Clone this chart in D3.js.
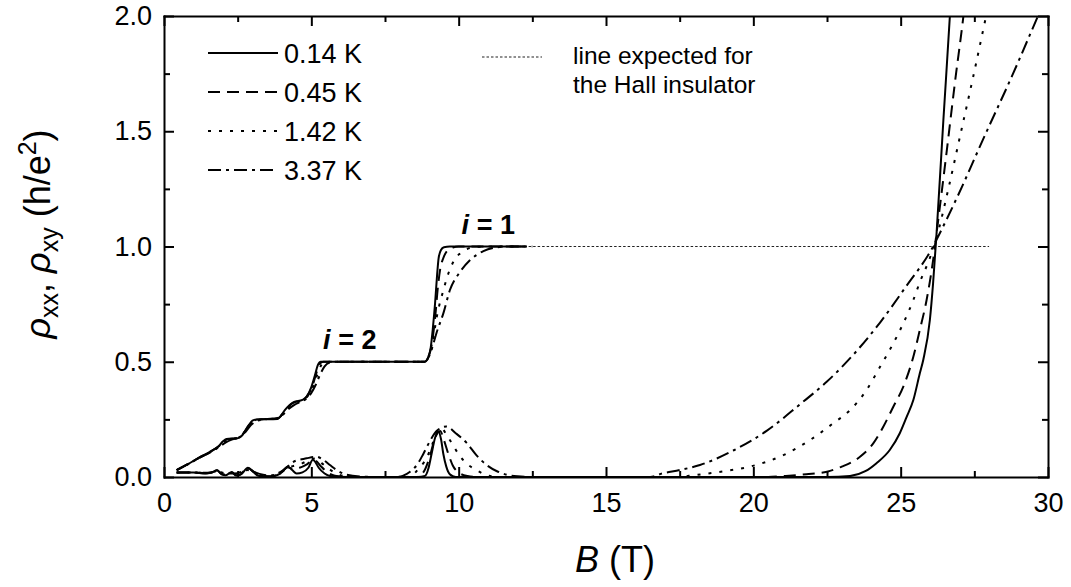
<!DOCTYPE html>
<html>
<head>
<meta charset="utf-8">
<script src="https://cdn.jsdelivr.net/npm/d3@7"></script>
<style>
body { margin: 0; background: #fff; }
svg { display: block; font-family: "Liberation Sans", Arial, sans-serif; }
.frame path { stroke: #000; stroke-width: 2; stroke-linecap: square; }
.tick line { stroke: #000; stroke-width: 2; }
.tick text { font-size: 27px; fill: #000; }
.curve { fill: none; stroke: #000; stroke-width: 2; }
</style>
</head>
<body>
<svg id="chart" width="1071" height="587"></svg>
<script>
(function(){

// temperatures (legend) and line styles
let temps = ["0.14 K", "0.45 K", "1.42 K", "3.37 K"];

let xTicks = [0, 5, 10, 15, 20, 25, 30],
    xMinor = [2.5, 7.5, 12.5, 17.5, 22.5, 27.5],
    yTicks = [0, 0.5, 1.0, 1.5, 2.0],
    yMinor = [0.25, 0.75, 1.25, 1.75];

// Hall resistivity rho_xy, [B (T), rho (h/e^2)]
let rhoXY_014 = [[0.43,0.03],[0.8,0.055],[1.2,0.085],[1.5,0.105],[1.7,0.12],[1.85,0.132],[2.0,0.155],[2.12,0.165],[2.5,0.168],[2.65,0.18],[2.85,0.22],[3.0,0.245],[3.15,0.25],[3.85,0.252],[3.95,0.262],[4.1,0.29],[4.25,0.31],[4.4,0.325],[4.7,0.335],[4.85,0.35],[5.0,0.39],[5.12,0.44],[5.22,0.485],[5.32,0.5],[8.85,0.5],[8.95,0.515],[9.05,0.56],[9.12,0.64],[9.2,0.755],[9.27,0.88],[9.32,0.95],[9.4,0.985],[9.5,0.997],[9.7,1.0],[12.3,1.0]];
let rhoXY_045 = [[0.43,0.03],[0.8,0.055],[1.2,0.084],[1.5,0.104],[1.7,0.12],[1.85,0.133],[2.0,0.152],[2.15,0.164],[2.5,0.168],[2.7,0.19],[2.9,0.228],[3.05,0.245],[3.2,0.25],[3.85,0.253],[4.0,0.27],[4.15,0.295],[4.3,0.315],[4.5,0.327],[4.75,0.337],[4.9,0.36],[5.05,0.4],[5.17,0.45],[5.28,0.49],[5.4,0.5],[8.85,0.5],[8.97,0.52],[9.08,0.57],[9.2,0.69],[9.3,0.83],[9.37,0.9],[9.48,0.95],[9.6,0.98],[9.8,0.995],[10.0,1.0],[12.3,1.0]];
let rhoXY_142 = [[0.43,0.03],[0.8,0.055],[1.2,0.084],[1.5,0.103],[1.7,0.118],[1.85,0.132],[2.0,0.15],[2.2,0.163],[2.5,0.17],[2.7,0.19],[2.9,0.226],[3.1,0.245],[3.3,0.25],[3.85,0.254],[4.0,0.27],[4.2,0.3],[4.4,0.318],[4.6,0.328],[4.8,0.34],[4.95,0.365],[5.1,0.405],[5.22,0.45],[5.35,0.488],[5.5,0.5],[8.85,0.5],[8.98,0.52],[9.1,0.57],[9.25,0.69],[9.48,0.81],[9.7,0.9],[9.9,0.95],[10.05,0.97],[10.3,0.99],[10.6,0.998],[11.0,1.0],[12.3,1.0]];
let rhoXY_337 = [[0.43,0.03],[0.8,0.055],[1.2,0.083],[1.5,0.102],[1.7,0.116],[1.9,0.133],[2.1,0.15],[2.3,0.162],[2.55,0.172],[2.75,0.193],[2.95,0.225],[3.15,0.243],[3.4,0.25],[3.85,0.256],[4.05,0.272],[4.25,0.297],[4.45,0.315],[4.65,0.327],[4.85,0.342],[5.0,0.365],[5.15,0.4],[5.3,0.445],[5.45,0.48],[5.6,0.496],[5.8,0.5],[8.85,0.5],[8.98,0.52],[9.1,0.56],[9.25,0.626],[9.48,0.71],[9.7,0.81],[10.05,0.89],[10.38,0.94],[10.84,0.98],[11.4,0.998],[11.8,1.0],[12.5,1.0]];

// longitudinal resistivity rho_xx, [B (T), rho (h/e^2)]
let rhoXX_014 = [[0.43,0.02],[1.0,0.02],[1.4,0.015],[1.6,0.018],[1.8,0.03],[1.95,0.012],[2.1,0.008],[2.3,0.022],[2.45,0.006],[2.6,0.01],[2.85,0.04],[3.05,0.02],[3.2,0.005],[3.6,0.002],[3.95,0.015],[4.2,0.045],[4.35,0.03],[4.5,0.015],[4.7,0.02],[4.9,0.04],[5.05,0.075],[5.12,0.068],[5.25,0.04],[5.45,0.015],[5.7,0.003],[6.2,0],[8.6,0],[8.86,0.005],[8.98,0.04],[9.08,0.1],[9.2,0.17],[9.31,0.197],[9.4,0.165],[9.48,0.1],[9.58,0.045],[9.7,0.012],[9.9,0],[22.5,0],[23.28,0.004],[23.8,0.025],[24.18,0.06],[24.63,0.117],[24.97,0.19],[25.2,0.26],[25.43,0.334],[25.65,0.45],[25.77,0.51],[25.99,0.68],[26.1,0.84],[26.22,1.06],[26.45,1.55],[26.67,2.0],[26.8,2.3]];
let rhoXX_045 = [[0.43,0.02],[1.0,0.02],[1.4,0.016],[1.6,0.018],[1.8,0.028],[1.95,0.014],[2.1,0.01],[2.3,0.02],[2.45,0.008],[2.6,0.012],[2.85,0.038],[3.05,0.022],[3.25,0.006],[3.6,0.003],[3.95,0.016],[4.2,0.042],[4.4,0.035],[4.6,0.04],[4.85,0.055],[5.05,0.072],[5.15,0.07],[5.3,0.05],[5.5,0.025],[5.8,0.006],[6.3,0],[8.55,0],[8.8,0.02],[9.0,0.08],[9.2,0.17],[9.37,0.2],[9.5,0.16],[9.65,0.1],[9.8,0.05],[9.99,0.02],[10.3,0.004],[10.6,0],[20.5,0],[21.0,0.004],[21.8,0.012],[22.5,0.023],[23.0,0.045],[23.62,0.088],[24.07,0.146],[24.41,0.218],[24.75,0.305],[25.09,0.392],[25.43,0.522],[25.65,0.638],[25.88,0.768],[26.1,0.94],[26.22,1.06],[26.55,1.4],[26.85,1.72],[27.13,2.0],[27.3,2.2]];
let rhoXX_142 = [[0.43,0.02],[1.0,0.02],[1.4,0.017],[1.6,0.019],[1.8,0.026],[2.0,0.014],[2.3,0.018],[2.5,0.01],[2.85,0.034],[3.1,0.02],[3.3,0.008],[3.6,0.004],[3.95,0.018],[4.2,0.04],[4.45,0.05],[4.7,0.06],[4.95,0.075],[5.12,0.08],[5.35,0.06],[5.6,0.035],[5.9,0.012],[6.3,0.002],[6.8,0],[8.2,0],[8.45,0.01],[8.63,0.035],[8.9,0.08],[9.1,0.14],[9.25,0.19],[9.42,0.21],[9.6,0.18],[9.8,0.14],[9.99,0.1],[10.3,0.055],[10.6,0.03],[10.95,0.008],[11.3,0],[17.4,0],[18.0,0.008],[19.0,0.025],[19.88,0.045],[21.02,0.095],[21.92,0.16],[22.71,0.233],[23.28,0.29],[23.84,0.377],[24.3,0.478],[24.75,0.58],[25.09,0.667],[25.43,0.768],[25.65,0.845],[25.99,0.95],[26.22,1.04],[26.6,1.24],[27.0,1.47],[27.45,1.73],[27.9,2.0],[28.2,2.18]];
let rhoXX_337 = [[0.43,0.02],[1.0,0.02],[1.4,0.018],[1.8,0.024],[2.1,0.016],[2.4,0.015],[2.85,0.03],[3.2,0.015],[3.6,0.006],[4.05,0.03],[4.39,0.066],[4.84,0.081],[5.18,0.088],[5.4,0.075],[5.63,0.052],[5.86,0.03],[6.2,0.01],[6.7,0.002],[7.2,0],[7.9,0],[8.1,0.005],[8.35,0.023],[8.6,0.055],[8.8,0.1],[9.0,0.15],[9.25,0.2],[9.59,0.219],[9.9,0.19],[10.27,0.148],[10.6,0.095],[10.95,0.052],[11.3,0.025],[11.63,0.01],[12.0,0.003],[12.5,0],[16.5,0],[16.9,0.015],[17.5,0.03],[18.19,0.052],[19.32,0.115],[20.45,0.2],[21.58,0.315],[22.49,0.413],[23.39,0.53],[24.3,0.67],[25.2,0.83],[26.1,1.0],[26.22,1.03],[26.94,1.22],[27.85,1.48],[28.78,1.74],[29.66,2.0],[30.0,2.1]];

// expected Hall insulator line: rho_xy = 1 from B0 to B1
let insulatorB = [11.0, 28.0],
    insulatorRho = 1.0;

let rhoXY = [rhoXY_014, rhoXY_045, rhoXY_142, rhoXY_337],
    rhoXX = [rhoXX_014, rhoXX_045, rhoXX_142, rhoXX_337],
    dashes = ["none", "12,7", "3,8", "13,5,3,5"];

let svg = d3.select("#chart");

let x = d3.scaleLinear().domain([0, 30]).range([164, 1048]);
let y = d3.scaleLinear().domain([0, 2]).range([477, 16]);

svg.append("clipPath").attr("id", "plotclip")
  .append("rect")
    .attr("x", x(0)).attr("y", y(2))
    .attr("width", x(30) - x(0)).attr("height", y(0) - y(2));

let line = d3.line()
  .x(function(d){ return x(d[0]); })
  .y(function(d){ return y(d[1]); })
  .curve(d3.curveMonotoneX);

let plot = svg.append("g").attr("clip-path", "url(#plotclip)");

// expected line for the Hall insulator
plot.append("path")
  .datum(insulatorB.map(b => [b, insulatorRho]))
  .attr("fill", "none")
  .attr("stroke", "#222")
  .attr("stroke-width", 1.2)
  .attr("stroke-dasharray", "2.5,2")
  .attr("d", d3.line().x(d => x(d[0])).y(d => y(d[1])));

temps.forEach(function(t, i){
  plot.append("path")
    .datum(rhoXY[i])
    .attr("class", "curve")
    .attr("stroke-dasharray", dashes[i])
    .attr("d", line);
  plot.append("path")
    .datum(rhoXX[i])
    .attr("class", "curve")
    .attr("stroke-dasharray", dashes[i])
    .attr("d", line);
});

// axes, all ticks pointing inwards
function minor(g){ g.select(".domain").remove(); }

svg.append("g").attr("class", "frame")
  .attr("transform", "translate(0," + y(0) + ")")
  .call(d3.axisBottom(x).tickValues(xTicks).tickSize(-10).tickSizeOuter(0).tickPadding(16));
svg.append("g").attr("transform", "translate(0," + y(0) + ")")
  .call(d3.axisBottom(x).tickValues(xMinor).tickSize(-6).tickFormat("")).call(minor);

svg.append("g").attr("class", "frame")
  .attr("transform", "translate(0," + y(2) + ")")
  .call(d3.axisTop(x).tickValues(xTicks).tickSize(-10).tickSizeOuter(0).tickFormat(""));
svg.append("g").attr("transform", "translate(0," + y(2) + ")")
  .call(d3.axisTop(x).tickValues(xMinor).tickSize(-6).tickFormat("")).call(minor);

svg.append("g").attr("class", "frame")
  .attr("transform", "translate(" + x(0) + ",0)")
  .call(d3.axisLeft(y).tickValues(yTicks).tickSize(-10).tickSizeOuter(0).tickPadding(12).tickFormat(d3.format(".1f")));
svg.append("g").attr("transform", "translate(" + x(0) + ",0)")
  .call(d3.axisLeft(y).tickValues(yMinor).tickSize(-6).tickFormat("")).call(minor);

svg.append("g").attr("class", "frame")
  .attr("transform", "translate(" + x(30) + ",0)")
  .call(d3.axisRight(y).tickValues(yTicks).tickSize(-10).tickSizeOuter(0).tickFormat(""));
svg.append("g").attr("transform", "translate(" + x(30) + ",0)")
  .call(d3.axisRight(y).tickValues(yMinor).tickSize(-6).tickFormat("")).call(minor);

svg.selectAll(".tick text").attr("font-family", null).attr("font-size", null);

// axis titles
let xTitle = svg.append("text")
  .attr("x", 615).attr("y", 572)
  .attr("text-anchor", "middle")
  .style("font-size", "36px");
xTitle.append("tspan").style("font-style", "italic").text("B");
xTitle.append("tspan").text(" (T)");

let yTitle = svg.append("text")
  .attr("transform", "translate(50,234) rotate(-90)")
  .attr("text-anchor", "middle")
  .style("font-size", "36px");
yTitle.append("tspan").style("font-style", "italic").text("ρ");
yTitle.append("tspan").attr("dy", 8).style("font-size", "25px").text("xx");
yTitle.append("tspan").attr("dy", -8).text(", ");
yTitle.append("tspan").style("font-style", "italic").text("ρ");
yTitle.append("tspan").attr("dy", 8).style("font-size", "25px").text("xy");
yTitle.append("tspan").attr("dy", -8).text(" (h/e");
yTitle.append("tspan").attr("dy", -14).style("font-size", "25px").text("2");
yTitle.append("tspan").attr("dy", 14).text(")");

// plateau labels
function plateauLabel(b, rho, n){
  let t = svg.append("text")
    .attr("x", x(b)).attr("y", y(rho) - 13)
    .style("font-size", "27px").style("font-weight", "bold");
  t.append("tspan").style("font-style", "italic").text("i");
  t.append("tspan").text(" = " + n);
}
plateauLabel(5.4, 0.5, 2);
plateauLabel(10.1, 1.0, 1);

// legend
let legend = svg.selectAll("g.legend")
  .data(temps)
  .enter()
  .append("g")
  .attr("class", "legend")
  .attr("transform", (d, i) => "translate(0," + (53 + i * 39) + ")");

legend.append("line")
  .attr("x1", 208).attr("x2", 278)
  .attr("stroke", "#000").attr("stroke-width", 2)
  .attr("stroke-dasharray", (d, i) => dashes[i]);

legend.append("text")
  .attr("x", 284).attr("dy", "0.36em")
  .style("font-size", "27px")
  .text(d => d);

svg.append("line")
  .attr("x1", 482).attr("x2", 542).attr("y1", 57).attr("y2", 57)
  .attr("stroke", "#222").attr("stroke-width", 1.2)
  .attr("stroke-dasharray", "2.5,2");

svg.append("text").attr("x", 573).attr("y", 64)
  .style("font-size", "24.5px").text("line expected for");
svg.append("text").attr("x", 573).attr("y", 93)
  .style("font-size", "24.5px").text("the Hall insulator");

})();
</script>
</body>
</html>
